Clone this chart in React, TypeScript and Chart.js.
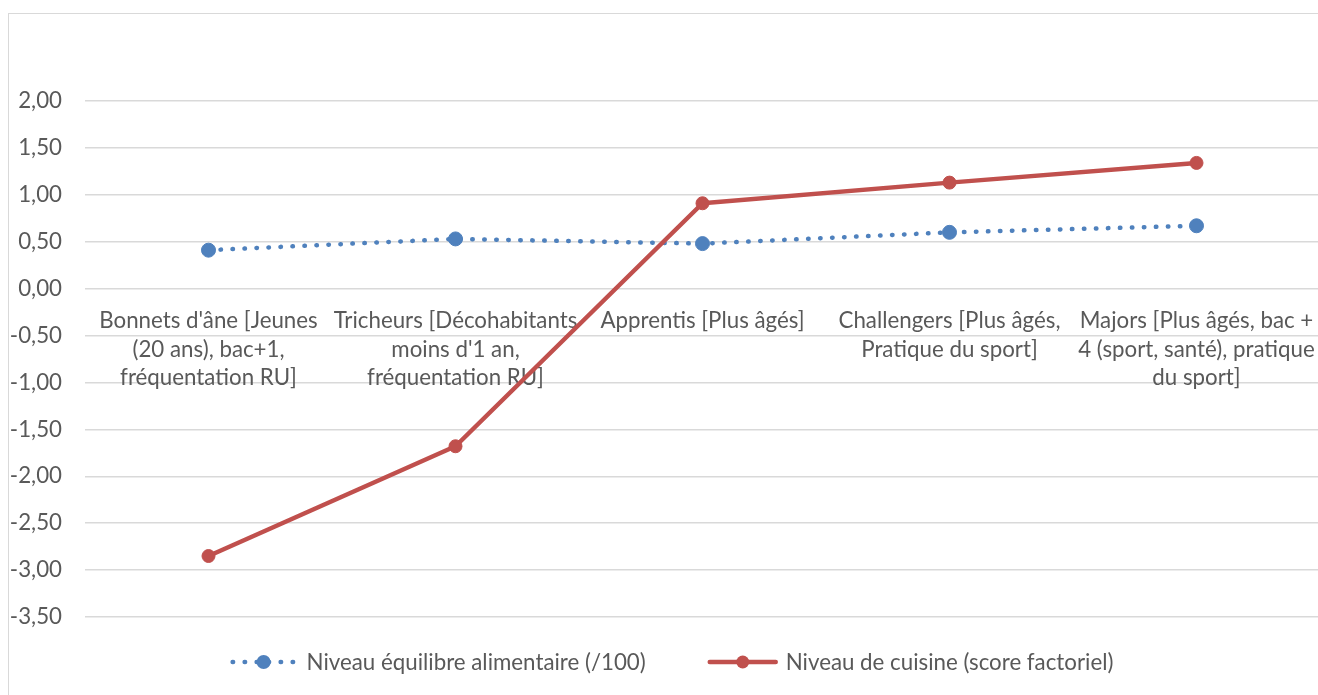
import React, { useEffect, useRef } from "react";
import { Chart, registerables } from "chart.js";

Chart.register(...registerables);

// ---- Data ----
const categories: string[][] = [
  ["Bonnets d'âne [Jeunes", "(20 ans), bac+1,", "fréquentation RU]"],
  ["Tricheurs [Décohabitants", "moins d'1 an,", "fréquentation RU]"],
  ["Apprentis [Plus âgés]"],
  ["Challengers [Plus âgés,", "Pratique du sport]"],
  ["Majors [Plus âgés, bac +", "4 (sport, santé), pratique", "du sport]"],
];
const equilibreValues: number[] = [0.41, 0.53, 0.48, 0.6, 0.67];
const cuisineValues: number[] = [-2.85, -1.68, 0.91, 1.13, 1.34];
const seriesLabels: string[] = [
  "Niveau équilibre alimentaire (/100)",
  "Niveau de cuisine (score factoriel)",
];
const yMin = -3.5;
const yMax = 2;
const yStep = 0.5;

// ---- Styles ----
const FONT = "Lato";
const FONT_SIZE = 22.3;
const TEXT = "#595959";
const GRID = "#d9d9d9";
const BLUE = "#4F81BD";
const RED = "#C0504D";

const formatTick = (v: number) => Number(v).toFixed(2).replace(".", ",");

const excelLegend = {
  id: "excelLegend",
  afterDraw(chart: any) {
    const ctx: CanvasRenderingContext2D = chart.ctx;
    const y = chart.chartArea.bottom + 45;
    const centerX = 672;
    const sampleW = 66;
    const gap = 10;
    const itemGap = 64;
    ctx.save();
    ctx.font = `${FONT_SIZE}px ${FONT}`;
    const items = chart.data.datasets.map((ds: any) => ({
      ds,
      textW: ctx.measureText(ds.label).width,
    }));
    let total = 0;
    items.forEach((it: any, i: number) => {
      total += sampleW + gap + it.textW + (i > 0 ? itemGap : 0);
    });
    let x = centerX - total / 2;
    items.forEach((it: any, i: number) => {
      if (i > 0) x += itemGap;
      const ds = it.ds;
      ctx.save();
      ctx.strokeStyle = ds.borderColor;
      ctx.lineWidth = ds.borderWidth;
      ctx.lineCap = ds.borderCapStyle || "butt";
      ctx.setLineDash(ds.borderDash || []);
      ctx.beginPath();
      ctx.moveTo(x + (ds.borderDash ? 2 : 0), y);
      ctx.lineTo(x + sampleW, y);
      ctx.stroke();
      ctx.setLineDash([]);
      ctx.beginPath();
      ctx.arc(x + sampleW / 2, y, ds.pointRadius, 0, Math.PI * 2);
      ctx.fillStyle = ds.pointBackgroundColor;
      ctx.fill();
      ctx.restore();
      x += sampleW + gap;
      ctx.fillStyle = TEXT;
      ctx.textBaseline = "middle";
      ctx.textAlign = "left";
      ctx.fillText(ds.label, x, y + 1);
      x += it.textW;
    });
    ctx.restore();
  },
};

export default function App() {
  const canvasRef = useRef<HTMLCanvasElement | null>(null);

  useEffect(() => {
    const canvas = canvasRef.current;
    if (!canvas) return;
    const font = { family: FONT, size: FONT_SIZE, lineHeight: "28.5px" };
    const chart = new Chart(canvas, {
      type: "line",
      data: {
        labels: categories as any,
        datasets: [
          {
            label: seriesLabels[0],
            data: equilibreValues,
            borderColor: BLUE,
            backgroundColor: BLUE,
            borderWidth: 4.5,
            borderDash: [0.5, 11.5],
            borderCapStyle: "round",
            pointRadius: 7,
            pointBackgroundColor: BLUE,
            pointBorderColor: BLUE,
            pointBorderWidth: 1,
            tension: 0,
            order: 1,
          } as any,
          {
            label: seriesLabels[1],
            data: cuisineValues,
            borderColor: RED,
            backgroundColor: RED,
            borderWidth: 4.5,
            borderCapStyle: "round",
            borderJoinStyle: "round",
            pointRadius: 6.5,
            pointBackgroundColor: RED,
            pointBorderColor: RED,
            pointBorderWidth: 1,
            tension: 0,
            order: 0,
          } as any,
        ],
      },
      options: {
        animation: false,
        responsive: false,
        devicePixelRatio: 1,
        layout: {
          autoPadding: false,
          padding: { top: 101, bottom: 78, left: 0, right: 0 },
        },
        plugins: {
          legend: { display: false },
          tooltip: { enabled: false },
        },
        scales: {
          x: {
            type: "category",
            position: { y: 0 } as any,
            offset: true,
            grid: { display: false, drawTicks: false },
            border: { display: false },
            afterFit: (s: any) => {
              s.paddingLeft = 0;
              s.paddingRight = 0;
            },
            ticks: {
              autoSkip: false,
              maxRotation: 0,
              minRotation: 0,
              padding: 18,
              color: TEXT,
              font,
            },
          },
          y: {
            min: yMin,
            max: yMax,
            afterFit: (s: any) => {
              s.width = 85;
            },
            grid: { color: GRID, lineWidth: 1.5, drawTicks: false },
            border: { display: false },
            ticks: {
              stepSize: yStep,
              padding: 23,
              color: TEXT,
              font,
              callback: (v: any) => formatTick(v),
            },
          },
        },
      },
      plugins: [excelLegend],
    });
    return () => chart.destroy();
  }, []);

  return (
    <div
      style={{
        position: "fixed",
        left: 0,
        top: 0,
        width: 1318,
        height: 695,
        overflow: "hidden",
        background: "#ffffff",
      }}
    >
      <div
        style={{
          position: "absolute",
          left: 8,
          top: 13,
          width: 1400,
          height: 800,
          border: `1px solid ${GRID}`,
        }}
      />
      <canvas
        ref={canvasRef}
        width={1320}
        height={695}
        style={{ position: "absolute", left: 0, top: 0, width: 1320, height: 695 }}
      />
    </div>
  );
}
